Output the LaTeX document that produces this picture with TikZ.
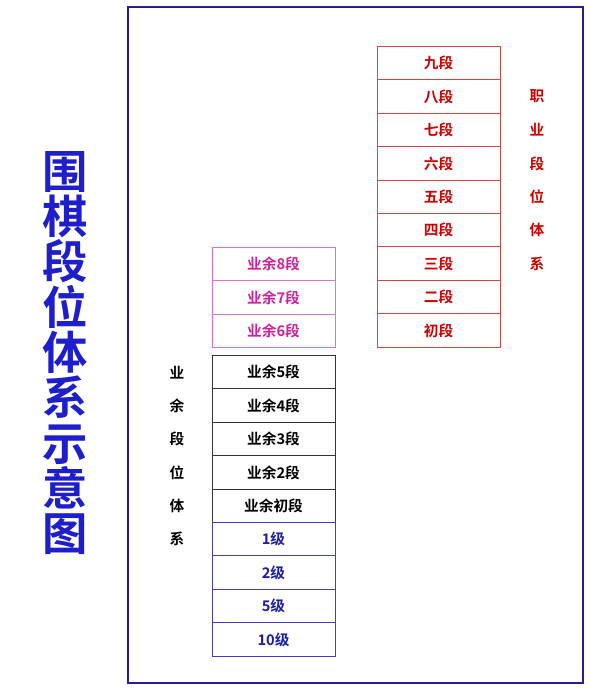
\documentclass[tikz,border=0pt]{standalone}
\usepackage{fontspec}
\setmainfont{Noto Sans CJK SC}[BoldFont={* Bold}]
\usetikzlibrary{positioning}
\definecolor{framecol}{HTML}{2B1B8F}
\definecolor{titlecol}{HTML}{1E1ECC}
\definecolor{procol}{HTML}{CC0000}
\definecolor{proline}{HTML}{D04848}
\definecolor{hicol}{HTML}{D0209A}
\definecolor{hiline}{HTML}{E070C8}
\definecolor{kyucol}{HTML}{1C1CA8}
\definecolor{kyuline}{HTML}{4040C0}
\tikzset{
  rank/.style={draw=black!80,line width=.75pt,minimum width=92.25pt,minimum height=25.05pt,
    inner sep=0pt,outer sep=0pt,font=\fontsize{11}{13}\selectfont\bfseries},
  side/.style={font=\fontsize{11}{13}\selectfont\bfseries,inner sep=0pt}
}
\begin{document}
\begin{tikzpicture}[x=.75pt,y=-.75pt]
      \useasboundingbox[fill=white](0,0)rectangle(590,690);
      \draw[framecol,line width=1.5pt](128,7)rectangle(583,683); % frame
      \node[text=titlecol,font=\fontsize{34}{34}\selectfont\bfseries,align=center,inner sep=0pt]
        (title) at (65,353){围\\棋\\段\\位\\体\\系\\示\\意\\图};
      % professional
      \foreach \t[count=\i] in {九段,八段,七段,六段,五段,四段,三段,二段,初段}
        \node[rank,draw=proline,text=procol](p\i) at (438.5,{46.5+33.4*(\i-.5)}){\t};
      \foreach \t[count=\i from 2] in {职,业,段,位,体,系}
        \node[side,text=procol](ps\i) at (537,{46.5+33.4*(\i-.5)}){\t};
      % amateur
      \foreach \t[count=\i] in {业余8段,业余7段,业余6段}
        \node[rank,draw=hiline,text=hicol](h\i) at (273.5,{247.5+33.4*(\i-.5)}){\t};
      \foreach \t[count=\i] in {业余5段,业余4段,业余3段,业余2段,业余初段}
        \node[rank](a\i) at (273.5,{355.5+33.4*(\i-.5)}){\t};
      \foreach \t[count=\i] in {1级,2级,5级,10级}
        \node[rank,draw=kyuline,text=kyucol](k\i) at (273.5,{522.5+33.4*(\i-.5)}){\t};
      \foreach \t[count=\i] in {业,余,段,位,体,系}
        \node[side](as\i) at (177,{355.5+33.4*(\i-.5)}){\t};
    \end{tikzpicture}
\end{document}
